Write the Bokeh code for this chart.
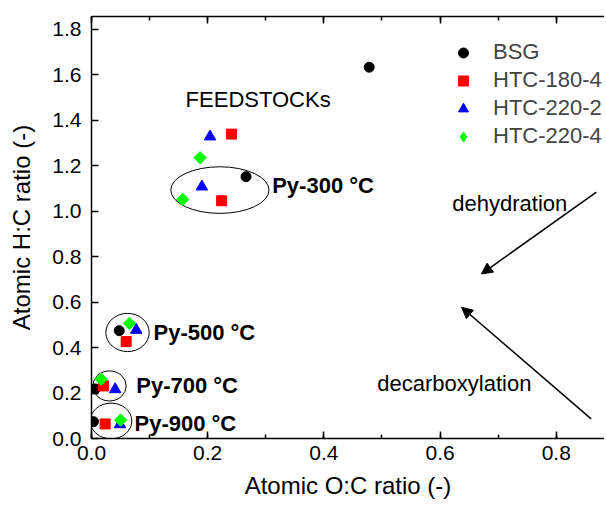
from bokeh.plotting import figure
from bokeh.models import (Legend, LegendItem, LinearAxis, SingleIntervalTicker,
                          PrintfTickFormatter, Arrow, NormalHead, Range1d)
from bokeh.core.properties import value
from bokeh.embed import file_html
from bokeh.resources import INLINE
import math

# ---- data ----
series_names = ["BSG", "HTC-180-4", "HTC-220-2", "HTC-220-4"]
# order of points: feedstock, Py-300, Py-500, Py-700, Py-900
bsg_oc = [0.478, 0.266, 0.0477, 0.0063, 0.0034]
bsg_hc = [1.632, 1.151, 0.474, 0.218, 0.074]
htc1804_oc = [0.241, 0.224, 0.0597, 0.0207, 0.0235]
htc1804_hc = [1.338, 1.045, 0.426, 0.231, 0.064]
htc2202_oc = [0.204, 0.190, 0.077, 0.0407, 0.049]
htc2202_hc = [1.327, 1.107, 0.477, 0.216, 0.062]
htc2204_oc = [0.187, 0.157, 0.0654, 0.0166, 0.050]
htc2204_hc = [1.234, 1.051, 0.506, 0.260, 0.081]

group_labels = ["Py-300 °C", "Py-500 °C", "Py-700 °C", "Py-900 °C"]

FONT = "Liberation Sans"

p = figure(frame_width=513, frame_height=422, x_range=Range1d(0, 0.883), y_range=Range1d(0, 1.855),
           output_backend="svg", toolbar_location=None, x_axis_location=None, y_axis_location=None,
           min_border_left=91, min_border_top=16, min_border_right=0, min_border_bottom=60)
p.outline_line_color = None
p.xgrid.visible = False
p.ygrid.visible = False
p.background_fill_color = "white"
p.border_fill_color = "white"

def style_axis(ax, minor=True):
    ax.axis_line_width = 1.5
    ax.axis_line_color = "black"
    ax.major_tick_in = 7
    ax.major_tick_out = 0
    ax.major_tick_line_width = 1.5
    ax.major_tick_line_color = "black"
    if minor:
        ax.minor_tick_in = 4
        ax.minor_tick_out = 0
        ax.minor_tick_line_width = 1.5
        ax.minor_tick_line_color = "black"
    else:
        ax.minor_tick_line_color = None
    ax.major_label_text_font = FONT
    ax.major_label_text_font_size = "21px"
    ax.major_label_text_color = "black"
    ax.axis_label_text_font = FONT
    ax.axis_label_text_font_size = "24px"
    ax.axis_label_text_font_style = "normal"
    ax.axis_label_text_color = "black"
    ax.formatter = PrintfTickFormatter(format="%.1f")

xb = LinearAxis(ticker=SingleIntervalTicker(interval=0.2, num_minor_ticks=2), axis_label="Atomic O:C ratio (-)")
style_axis(xb)
xb.major_label_standoff = 7
xb.axis_label_standoff = 9
p.add_layout(xb, "below")

# top frame line with ticks only (labels not drawn)
xt = LinearAxis(ticker=SingleIntervalTicker(interval=0.2, num_minor_ticks=2))
style_axis(xt)
xt.major_label_text_font_size = "1px"
xt.major_label_text_color = None
xt.major_label_standoff = 0
p.add_layout(xt, "above")

yl = LinearAxis(ticker=SingleIntervalTicker(interval=0.2, num_minor_ticks=0), axis_label="Atomic H:C ratio (-)")
style_axis(yl, minor=False)
yl.major_label_standoff = 10
yl.axis_label_standoff = 14
p.add_layout(yl, "left")

# ellipses around pyrolysis groups
ell_x = [0.221, 0.062, 0.031, 0.0336]
ell_y = [1.092, 0.466, 0.231, 0.077]
ell_w = [0.169, 0.0746, 0.0574, 0.0717]
ell_h = [0.205, 0.168, 0.132, 0.157]
p.ellipse(x=ell_x, y=ell_y, width=ell_w, height=ell_h, fill_color=None, line_color="black", line_width=1)

# series
r_bsg = p.scatter(bsg_oc, bsg_hc, marker="circle", size=10, fill_color="black", line_color="black")
r_1804 = p.scatter(htc1804_oc, htc1804_hc, marker="square", size=10, fill_color="#FF0000", line_color="#FF0000")
r_2202 = p.scatter(htc2202_oc, htc2202_hc, marker="triangle", size=11.5, fill_color="#0000FF", line_color="#0000FF")
r_2204 = p.scatter(htc2204_oc, htc2204_hc, marker="square", angle=math.pi / 4, size=8.7,
                   fill_color="#00FF00", line_color="#00FF00")
# legend-only glyph for the diamond series (legend glyphs ignore marker angle); NaN so nothing is plotted
r_2204_leg = p.scatter([float("nan")], [float("nan")], marker="diamond", size=14,
                       fill_color="#00FF00", line_color="#00FF00")

legend = Legend(items=[LegendItem(label=n, renderers=[r]) for n, r in
                       zip(series_names, [r_bsg, r_1804, r_2202, r_2204_leg])],
                location=(359, 289), glyph_width=26, glyph_height=25, spacing=2, padding=0, margin=0,
                label_standoff=17, label_text_font=FONT, label_text_font_size="22px",
                border_line_color=None, background_fill_alpha=0)
p.add_layout(legend, "center")

# labels
p.text(x=[0.162], y=[1.491], text=["FEEDSTOCKs"], text_font=value(FONT), text_font_size="22px",
       text_baseline="middle", text_align="left", text_color="black")
p.text(x=[0.311, 0.1067, 0.077, 0.074], y=[1.114, 0.465, 0.231, 0.067], text=group_labels,
       text_font=value(FONT), text_font_size="22px", text_font_style="bold",
       text_baseline="middle", text_align="left", text_color="black")
p.text(x=[0.621, 0.492], y=[1.035, 0.243], text=["dehydration", "decarboxylation"],
       text_font=value(FONT), text_font_size="22px", text_baseline="middle", text_align="left",
       text_color="black")

p.add_layout(Arrow(end=NormalHead(size=11, fill_color="black", line_color="black"),
                   x_start=0.869, y_start=1.083, x_end=0.671, y_end=0.723,
                   line_width=1.5, line_color="black"))
p.add_layout(Arrow(end=NormalHead(size=11, fill_color="black", line_color="black"),
                   x_start=0.860, y_start=0.086, x_end=0.637, y_end=0.577,
                   line_width=1.5, line_color="black"))

open("out.html", "w").write(file_html(p, INLINE))
